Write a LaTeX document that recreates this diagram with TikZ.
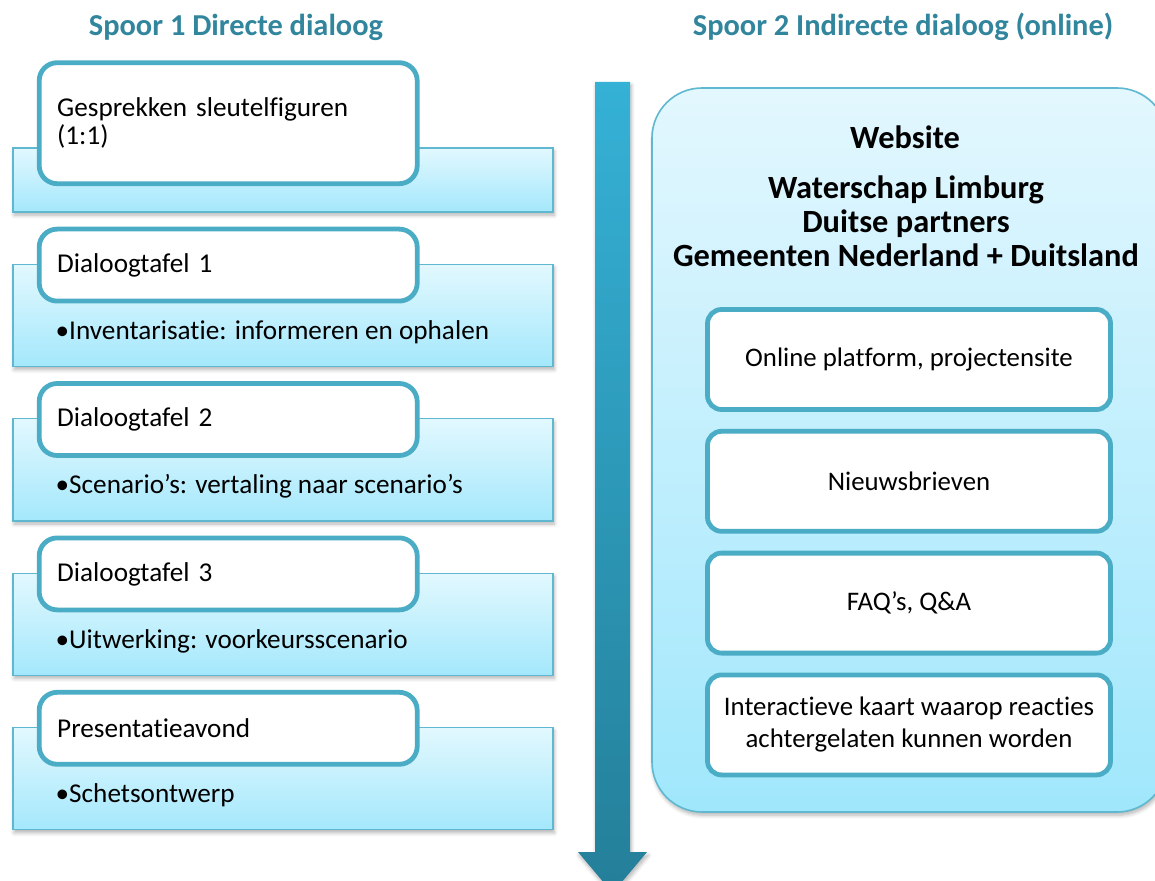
\documentclass[tikz,border=0pt]{standalone}
\usepackage{fontspec}
\setmainfont[Ligatures={NoCommon,NoContextual}]{Carlito}
\usetikzlibrary{positioning, shadows, shadows.blur}

\definecolor{rim}{HTML}{4BACC6}
\definecolor{rimlight}{HTML}{5FB8D0}
\definecolor{headteal}{HTML}{31859C}
\definecolor{bartop}{HTML}{E2F8FE}
\definecolor{barbottom}{HTML}{A4E8FC}
\definecolor{paneltop}{HTML}{E3F7FE}
\definecolor{panelbottom}{HTML}{A0E7FC}
\definecolor{arrowtop}{HTML}{35B1D6}
\definecolor{arrowbottom}{HTML}{247F99}

\begin{document}
\begin{tikzpicture}[
    x=0.5pt, y=-0.5pt,
    font=\fontsize{13.6}{14}\selectfont,
    node distance=25.5pt,
    title/.style={font=\fontsize{15.2}{17}\selectfont\bfseries, text=headteal},
    softshadow/.style={blur shadow={shadow xshift=0.6pt, shadow yshift=-1.6pt, shadow blur steps=6, shadow opacity=30}},
    bar/.style={rectangle, draw=rimlight, line width=0.7pt, top color=bartop, bottom color=barbottom, minimum width=270pt, minimum height=51pt, softshadow},
    tab/.style={rectangle, draw=rim, line width=2.4pt, rounded corners=9pt, fill=white, minimum width=189pt, minimum height=36pt, text width=171pt, inner xsep=9pt, align=left, anchor=north west},
    item/.style={anchor=west, inner sep=0pt},
    panel/.style={rectangle, draw=rimlight, line width=0.8pt, rounded corners=25pt, top color=paneltop, bottom color=panelbottom, minimum width=257.5pt, minimum height=362pt, softshadow},
    heading/.style={font=\fontsize{16.2}{17}\selectfont\bfseries, align=center},
    card/.style={rectangle, draw=rim, line width=2.4pt, rounded corners=7pt, fill=white, minimum width=201.5pt, minimum height=50pt, align=center, font=\fontsize{13.4}{16}\selectfont}
]
\useasboundingbox (0,0) rectangle (1155,881);

\node[title] (spoor1) at (236,27) {Spoor 1 Directe dialoog};
\node[title] (spoor2) at (903,27) {Spoor 2 Indirecte dialoog (online)};

\node[bar, minimum height=32pt] (bar1) at (283,180) {};
\node[bar, below=of bar1] (bar2) {};
\node[bar, below=of bar2] (bar3) {};
\node[bar, below=of bar3] (bar4) {};
\node[bar, below=of bar4] (bar5) {};

\node[tab, minimum height=60.5pt] (tab1) at ([xshift=12.25pt, yshift=43.5pt]bar1.north west) {Gesprekken sleutelfiguren\\(1:1)};
\node[tab] (tab2) at ([xshift=12.25pt, yshift=18.5pt]bar2.north west) {Dialoogtafel 1};
\node[tab] (tab3) at ([xshift=12.25pt, yshift=18.5pt]bar3.north west) {Dialoogtafel 2};
\node[tab] (tab4) at ([xshift=12.25pt, yshift=18.5pt]bar4.north west) {Dialoogtafel 3};
\node[tab] (tab5) at ([xshift=12.25pt, yshift=18.5pt]bar5.north west) {Presentatieavond};

\node[item] (item2) at ([xshift=21.5pt, yshift=17.5pt]bar2.south west) {\textbullet Inventarisatie: informeren en ophalen};
\node[item] (item3) at ([xshift=21.5pt, yshift=17.5pt]bar3.south west) {\textbullet Scenario's: vertaling naar scenario's};
\node[item] (item4) at ([xshift=21.5pt, yshift=17.5pt]bar4.south west) {\textbullet Uitwerking: voorkeursscenario};
\node[item] (item5) at ([xshift=21.5pt, yshift=17.5pt]bar5.south west) {\textbullet Schetsontwerp};

\path[top color=arrowtop, bottom color=arrowbottom, softshadow] (595,82) -- (630,82) -- (630,852) -- (647,852) -- (612.5,893) -- (578,852) -- (595,852) -- cycle;

\node[panel] (site) at (909.5,450) {};
\node[heading] (website) at (905,137) {Website};
\node[heading] (partners) at (906,221) {Waterschap Limburg\\Duitse partners\\Gemeenten Nederland + Duitsland};

\node[card] (online) at (909,359.5) {Online platform, projectensite};
\node[card, below=8.5pt of online] (news) {Nieuwsbrieven};
\node[card, below=8.5pt of news] (faq) {FAQ's, Q\&A};
\node[card, below=8.5pt of faq] (map) {Interactieve kaart waarop reacties\\achtergelaten kunnen worden};
\end{tikzpicture}
\end{document}
